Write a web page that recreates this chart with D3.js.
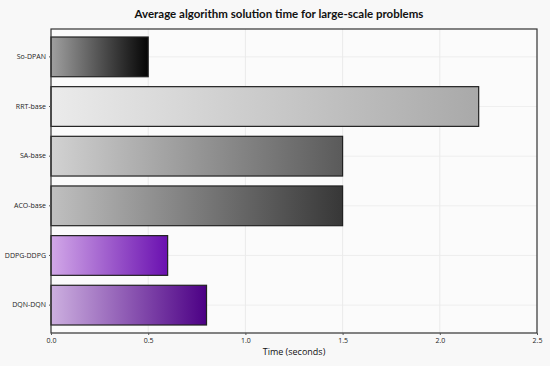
<!DOCTYPE html>
<html>
<head>
<meta charset="utf-8">
<script src="https://cdn.jsdelivr.net/npm/d3@7"></script>
<style>
  body { margin:0; background:#f8f8f8; }
  text { font-family: "Open Sans", "Noto Sans", sans-serif; }
</style>
</head>
<body>
<div id="chart"></div>
<script>
(function(){
    var width = 550, height = 366;
    var margin = {top: 29, right: 13, bottom: 33, left: 51};

    // data
    var algorithms = ["So-DPAN", "RRT-base", "SA-base", "ACO-base", "DDPG-DDPG", "DQN-DQN"];
    var times = [0.5, 2.2, 1.5, 1.5, 0.6, 0.8];
    var gradStart = ["#a0a0a0", "#ebebeb", "#d2d2d2", "#c0c0c0", "#d2a8e8", "#cdb0e0"];
    var gradEnd = ["#050505", "#a9a9a9", "#5a5a5a", "#373737", "#6a10b0", "#4c0085"];
    var xTicks = [0, 0.5, 1.0, 1.5, 2.0, 2.5];

    var data = algorithms.map(function(a, i){
        return {name: a, time: times[i], c0: gradStart[i], c1: gradEnd[i]};
    });

    var svg = d3.select("#chart")
        .append("svg")
        .attr("width", width)
        .attr("height", height);

    svg.append("rect").attr("width", width).attr("height", height).attr("fill", "#f8f8f8");

    var x = d3.scaleLinear().domain([0, 2.5]).range([margin.left, width - margin.right]);
    var y = d3.scaleBand().domain(algorithms).range([37, 325]).paddingInner(0.2).paddingOuter(0);

    var defs = svg.append("defs");
    data.forEach(function(d, i){
        var g = defs.append("linearGradient").attr("id", "grad" + i)
            .attr("x1", "0%").attr("x2", "100%").attr("y1", "0%").attr("y2", "0%");
        g.append("stop").attr("offset", "0%").attr("stop-color", d.c0);
        g.append("stop").attr("offset", "100%").attr("stop-color", d.c1);
    });

    // plot background
    svg.append("rect")
        .attr("x", margin.left).attr("y", margin.top)
        .attr("width", width - margin.right - margin.left)
        .attr("height", height - margin.bottom - margin.top)
        .attr("fill", "#fbfbfb");

    // grid
    svg.selectAll(".vgrid")
        .data(xTicks.slice(1, -1))
        .enter().append("line")
        .attr("class", "vgrid")
        .attr("x1", function(d){ return x(d); }).attr("x2", function(d){ return x(d); })
        .attr("y1", margin.top).attr("y2", height - margin.bottom)
        .attr("stroke", "#e6e6e6").attr("stroke-width", 0.8);

    svg.selectAll(".hgrid")
        .data(algorithms)
        .enter().append("line")
        .attr("class", "hgrid")
        .attr("x1", margin.left).attr("x2", width - margin.right)
        .attr("y1", function(d){ return y(d) + y.bandwidth() / 2; })
        .attr("y2", function(d){ return y(d) + y.bandwidth() / 2; })
        .attr("stroke", "#ebebeb").attr("stroke-width", 0.8);

    // bars
    svg.selectAll(".bar")
        .data(data)
        .enter().append("rect")
        .attr("class", "bar")
        .attr("x", x(0))
        .attr("y", function(d){ return y(d.name); })
        .attr("width", function(d){ return x(d.time) - x(0); })
        .attr("height", y.bandwidth())
        .attr("fill", function(d, i){ return "url(#grad" + i + ")"; })
        .attr("stroke", "#222")
        .attr("stroke-width", 1.2);

    // frame
    svg.append("rect")
        .attr("x", margin.left).attr("y", margin.top)
        .attr("width", width - margin.right - margin.left)
        .attr("height", height - margin.bottom - margin.top)
        .attr("fill", "none").attr("stroke", "#333").attr("stroke-width", 1.2);

    // axes
    var xAxis = svg.append("g")
        .attr("transform", "translate(0," + (height - margin.bottom) + ")")
        .call(d3.axisBottom(x).tickValues(xTicks).tickFormat(d3.format(".1f")).tickSize(2));
    xAxis.select(".domain").remove();
    xAxis.selectAll("text").style("font-size", "7px").attr("fill", "#222");
    xAxis.selectAll("line").attr("stroke", "#555");

    var yAxis = svg.append("g")
        .attr("transform", "translate(" + margin.left + ",0)")
        .call(d3.axisLeft(y).tickSize(2));
    yAxis.select(".domain").remove();
    yAxis.selectAll("text").style("font-size", "7px").attr("fill", "#222");
    yAxis.selectAll("line").attr("stroke", "#555");

    svg.append("text")
        .attr("x", 294).attr("y", 355)
        .attr("text-anchor", "middle")
        .style("font-size", "9px")
        .attr("fill", "#111")
        .text("Time (seconds)");

    svg.append("text")
        .attr("x", 279).attr("y", 18)
        .attr("text-anchor", "middle")
        .style("font-size", "11.5px")
        .style("font-weight", "bold")
        .style("font-family", "Lato, sans-serif")
        .attr("fill", "#111")
        .text("Average algorithm solution time for large-scale problems");
})();
</script>
</body>
</html>
